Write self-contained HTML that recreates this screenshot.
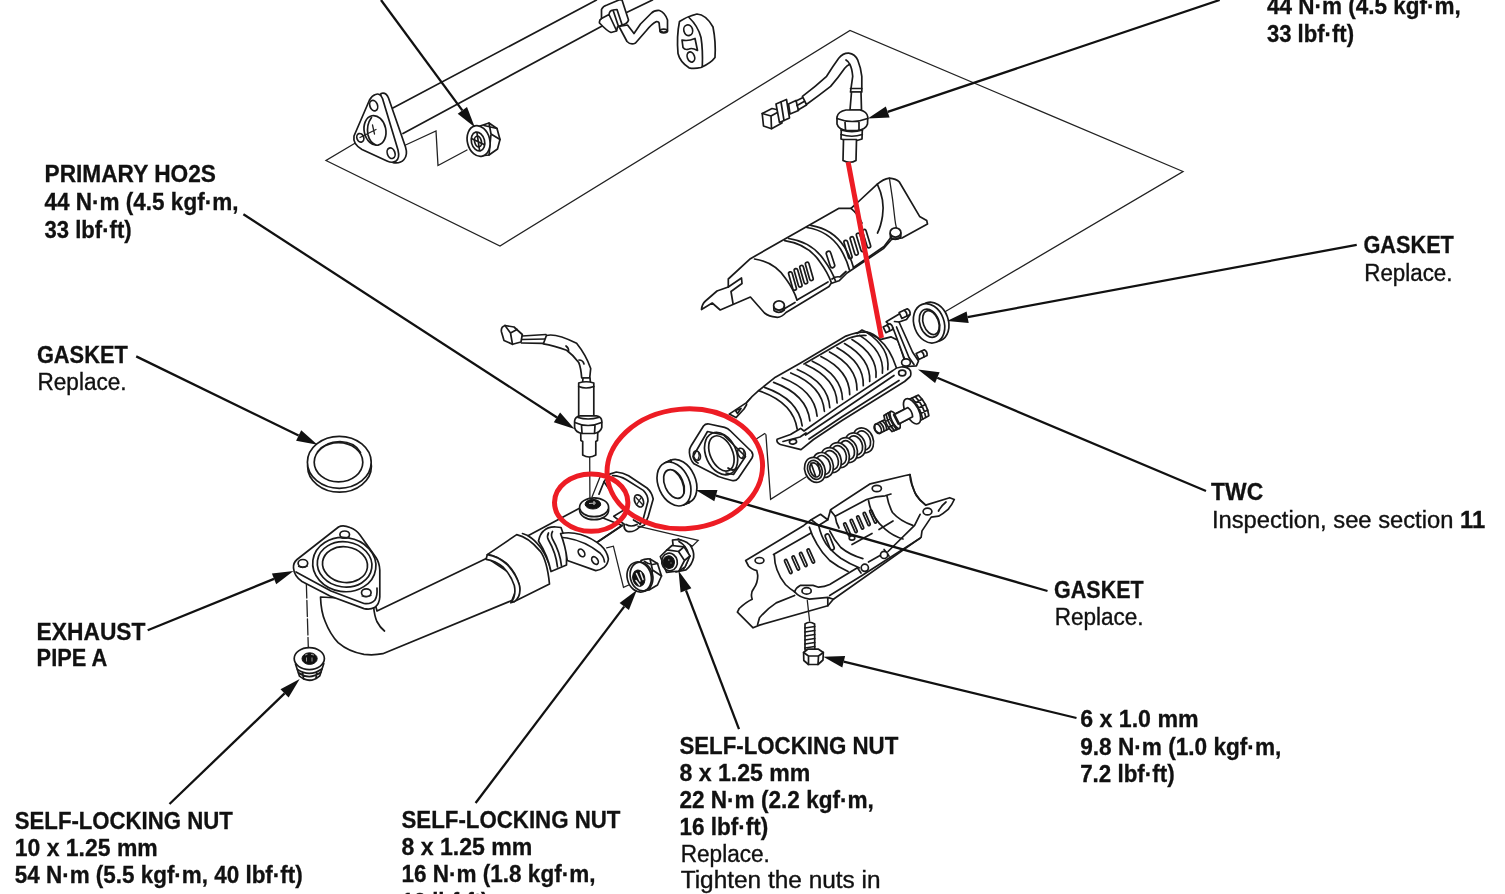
<!DOCTYPE html>
<html><head><meta charset="utf-8"><title>Exhaust pipe and TWC</title>
<style>
html,body{margin:0;padding:0;background:#fff;}
svg{display:block;}
text{font-family:"Liberation Sans",sans-serif;fill:#111;stroke:#111;}
.b{font-weight:bold;font-size:24px;stroke-width:0.3px;}
.m{font-weight:bold;font-size:23px;stroke-width:0.3px;}
.r{font-weight:normal;font-size:23px;stroke-width:0.35px;}
.p{fill:none;stroke:#1a1a1a;stroke-width:1.7;stroke-linejoin:round;stroke-linecap:round;}
.w{fill:#fff;stroke:#1a1a1a;stroke-width:1.7;stroke-linejoin:round;stroke-linecap:round;}
.t{fill:none;stroke:#222;stroke-width:1.3;stroke-linecap:round;}
.k{fill:#111;stroke:#111;stroke-width:1;}
</style></head><body>
<svg width="1505" height="894" viewBox="0 0 1505 894">
<rect width="1505" height="894" fill="#fff"/>
<g id="art">
<!-- ground plane / exploded guide lines -->
<path class="t" d="M354.5 143.5 L326 160.5 L500 246 L850 30.5 L1183 171.5 L945 311.8"/>
<!-- long pipe -->
<path class="p" d="M391 109 L596.5 0"/>
<path class="p" d="M403 133.5 L604 25"/>
<path class="p" d="M624.5 13.5 L652.5 0"/>
<!-- Z guide -->
<path class="t" d="M404.5 145.5 L436 131 L438 165.5 L467 150"/>
<!-- triangular flange (back face then front face) -->
<path class="w" d="M381 93.5 Q386 92 388.5 98 L405.5 147 Q408 155 404 159.5 Q400 164 393 162.6 L370 150 Z"/>
<path class="w" d="M375.5 94.5 Q380 92.5 382.5 98.5 L398 150 Q400 158 396 161 Q392.5 163.5 387 161 L362 149.5 Q352.5 144 354 136 L369.5 100 Q372 95.5 375.5 94.5 Z"/>
<ellipse class="p" cx="375" cy="130.4" rx="10.8" ry="15" transform="rotate(-12 375 130.4)"/>
<path class="p" d="M371.5 117.5 Q366 125 368 135 Q370 143 376 145"/>
<path class="t" d="M360 137.5 L376 129.5 M372.5 125 L374.5 134"/>
<ellipse class="p" cx="373.7" cy="105.6" rx="3.8" ry="5.4" transform="rotate(-20 373.7 105.6)"/>
<ellipse class="p" cx="360.3" cy="137.8" rx="3.4" ry="4.4" transform="rotate(-20 360.3 137.8)"/>
<ellipse class="p" cx="391.1" cy="153.2" rx="3.8" ry="5.4" transform="rotate(-20 391.1 153.2)"/>
<!-- flange nut -->
<g>
<path class="w" d="M480 126 L489 123 L497 128.5 L500 139.5 L497.5 149 L489 155 L480 156 Z"/>
<path class="p" d="M489 123 L491 134 L489 155 M491 134 L500 139.5 M484 125.5 L497 128.5"/>
<ellipse class="w" cx="478.6" cy="141" rx="11.2" ry="15.6" transform="rotate(-14 478.6 141)"/>
<ellipse class="p" cx="478" cy="141.5" rx="6.6" ry="9.6" transform="rotate(-14 478 141.5)"/>
<ellipse class="p" cx="478" cy="141.5" rx="3.4" ry="5.4" transform="rotate(-14 478 141.5)"/>
<path class="p" d="M472.5 139 L484 144.5 M477 133 L479.5 150"/>
</g>
<!-- pipe bracket + hook -->
<path class="w" d="M601.5 9.5 Q603 6 607 5 L619 0 L622 0 L628.5 20 Q627.5 24 622 25 L617.5 27 L616.5 31 L611 32.5 Q607 31 599.5 23 Q599 20 601.5 18.5 Z"/>
<path class="p" d="M601.5 18.5 L609 14.5 L616.5 30.5 M609 14.5 Q609.5 10.5 613 10 L617 9.5 L622 24.5 M613 10 L618.5 26.5"/>
<path class="w" d="M619 26.5 L627 41.5 Q631 45.5 635.5 43 L646 31 Q651.5 24 656.5 21.5 Q659.5 21.5 659.3 25 L660 31 Q663.5 33.5 667.5 31 L667.5 20 Q665 12.5 659.5 10.5 Q654.5 10 651 13.5 L640.5 24 L634 33.5 L627.5 25 Z"/>
<ellipse class="p" cx="663.7" cy="31" rx="3.7" ry="1.8"/>
<!-- rubber hanger -->
<path class="w" d="M679.5 21.5 Q688 16 697 14 Q706 14.5 713 27 Q716 42 715 57.5 Q711 63 701 67.5 Q694 69 689 67.8 Q680 62 678 53.5 Q676.5 36 679.5 21.5 Z"/>
<path class="p" d="M689 17.5 Q698 26 701 37.5 Q703 50 702.3 66.5"/>
<ellipse class="p" cx="688.2" cy="30.2" rx="4.4" ry="5.4" transform="rotate(-15 688.2 30.2)"/>
<ellipse class="p" cx="690.9" cy="57" rx="3.6" ry="5.2" transform="rotate(-20 690.9 57)"/>
<path class="p" d="M682 40 Q688 41.5 695 38.5 L697.5 50.5 Q692 47.5 689 49 Q685 50.5 683 47.5 Z"/>

<!-- secondary HO2S -->
<g>
<path class="w" d="M762.2 113.5 L772 108.5 L781 110.5 L782 123 L771.5 128.7 L763.5 126 Z"/>
<path class="p" d="M762.2 113.5 L771 116 L781 110.5 M771 116 L771.5 128.7"/>
<path class="w" d="M776 104 L786.5 99.5 L789.5 118 L779.5 122.5 Z"/>
<path class="p" d="M781 102 L784 120.5"/>
<path class="w" d="M788.5 104 L796 100.5 L798.5 110.5 L790 114 Z"/>
<path class="p" d="M796 101 L804 97 M798 110 L806.5 105 M797 105.5 L805 101"/>
<path class="w" d="M802.4 96.4 Q816 86 826.6 76.3 Q833 66 838.7 58.2 Q843 53 848.7 53.2 Q855 54 857.8 60.2 Q861 68 861.8 76.3 L861.8 92 L850.5 92 L852.7 76.3 Q852 68 849.7 64.2 Q847 65.5 844.7 68.3 Q838 78 830.6 86.4 Q819 95.5 806.4 104.5 Z"/>
<path class="p" d="M846 60 Q849 62 849.7 64.2 M850.5 88.5 L861.8 88.5"/>
<path class="w" d="M851.5 92 L861 92 L861.5 110 L850 110 Z"/>
<path class="w" d="M841 139 L841.5 124 L862.5 124 L862 139 Q852 143 841 139 Z"/>
<path class="p" d="M841 130 Q852 133.5 862.5 130 M841 134.5 Q852 138 862.3 134.5"/>
<path class="w" d="M837 117 Q838 111.5 846 110 L860 110 Q867 111.5 867.8 117 L867.5 124 Q866 129.5 857 130.5 L847 130.5 Q838.5 129.5 837 124 Z"/>
<path class="p" d="M837 118.5 Q852 124.5 867.6 118.5 M845 122 L845.5 130 M859 122 L859 130"/>
<path class="w" d="M843.5 139.5 L856.5 139.5 L856 160.5 Q850 164 843 160.5 Z"/>
</g>

<!-- upper heat shield -->
<path class="w" d="M701.5 309.5 Q702 304 705.5 301 L717 291 L728.3 287 L728.3 279 L750.4 258.7 L839 208.3 L851 208.3 L857 203 L877.3 184.2 Q883 179 889.4 178.1 Q896 178.5 899.5 182.2 L919.6 216.4 L926.7 220.4 L927.5 224 L902 238 L891.5 239.5 L883.4 248.6 L847 273 L839 280.8 L831 283.5 L829 286.5 L786 312.5 Q781 318 776 317.2 Q769 316.5 764.5 313 L750.4 297 L720.2 310 L712.2 303 Z"/>
<path class="p" d="M728.3 287 L741.5 278 L742 283.5 L731 291.5 L733 303.5"/>
<path class="p" d="M754.5 259 Q775 262 786 279 Q794 290 797 300"/>
<path class="p" d="M784.7 240.6 Q808 244 820 262 Q828 273 831.5 283"/>
<path class="p" d="M788.5 238.5 Q812 242 824 260 Q832 271 835.5 281"/>
<path class="p" d="M806.8 227.5 Q829 231 840.5 249 Q847 260 849.5 270"/>
<path class="p" d="M810.8 225.3 Q833 229 844.5 247 Q851 258 853.5 267.5"/>
<path class="p" d="M797 300 L828 282 M832 279 Q836 276 840 277 L846 271.5 M853.5 267.5 L884 246.5 L892 236 M783 309.5 L795 302.5"/>
<rect class="p" x="790.7" y="271.5" width="3.6" height="19" rx="1.8" transform="rotate(-16 792.5 281.0)"/>
<rect class="p" x="796.3" y="268.3" width="3.6" height="19" rx="1.8" transform="rotate(-16 798.1 277.8)"/>
<rect class="p" x="801.9" y="265.1" width="3.6" height="19" rx="1.8" transform="rotate(-16 803.7 274.6)"/>
<rect class="p" x="807.5" y="261.9" width="3.6" height="19" rx="1.8" transform="rotate(-16 809.3 271.4)"/>
<rect class="p" x="828.2" y="251.0" width="4.6" height="17" rx="2.3" transform="rotate(-18 830.5 259.5)"/>
<rect class="p" x="846.2" y="240.0" width="3.6" height="19" rx="1.8" transform="rotate(-17 848.0 249.5)"/>
<rect class="p" x="852.4" y="236.4" width="3.6" height="19" rx="1.8" transform="rotate(-17 854.2 245.9)"/>
<rect class="p" x="858.6" y="232.8" width="3.6" height="19" rx="1.8" transform="rotate(-17 860.4 242.3)"/>
<rect class="p" x="864.8" y="229.2" width="3.6" height="19" rx="1.8" transform="rotate(-17 866.6 238.7)"/>
<path class="p" d="M877.3 184.2 Q885 200 882.5 216 Q881 226 877.5 233"/>
<path class="t" d="M889.4 178.1 Q893 200 895 220 Q896 228 898 232"/>
<path class="p" d="M851 208.3 Q858 214 862 223"/>
<ellipse class="w" cx="895.5" cy="232.5" rx="5.4" ry="4.6"/><path class="p" d="M890.2 233.5 L890.5 237.5 Q895.5 241.5 900.8 237 L900.8 233"/>
<ellipse class="w" cx="779" cy="305.5" rx="5.4" ry="4.6"/><path class="p" d="M773.7 306.5 L774 310.5 Q779 314.5 784.3 310 L784.3 306"/>
<!-- TWC -->
<path class="w" d="M729.2 414.1 L746.9 402.4 L750 399 L744 409 L736 417.6 Z"/>
<path class="p" d="M735.5 410.5 L741 408.5 L737.5 413.5 Z"/>
<path class="t" d="M755.5 439.5 L765.8 432.9 L770.6 499.3 L806 477"/>
<path d="M746.9 402.4 Q752 396 758.6 390.6 L775.4 377.2 L800.6 362.9 L845.9 336.1 Q857 332 866 331.9 L881.1 339.4 L891.2 336.9 L897.9 340.3 L903 355.4 L906 366 L896 370 L838 407.6 L800 430.5 L777 441.5 L766 434 L752 420 Z" fill="#fff" stroke="none"/>
<path class="p" d="M746.9 402.4 Q752 396 758.6 390.6 L775.4 377.2 L800.6 362.9 L845.9 336.1 Q857 332 866 331.9 L881.1 339.4 L891.2 336.9 L897.9 340.3 L903 355.4 L906 366"/>
<path class="p" d="M758.6 390.6 Q793.3 402.2 797.2 429.2"/>
<path class="p" d="M764.5 387.4 Q798.7 399.2 802.2 425.9"/>
<path class="p" d="M773.6 382.4 Q806.9 394.6 809.9 420.9"/>
<path class="p" d="M782.2 377.7 Q814.7 390.3 817.1 416.1"/>
<path class="p" d="M790.8 373.0 Q822.5 385.9 824.4 411.3"/>
<path class="p" d="M797.3 369.5 Q828.3 382.7 829.8 407.7"/>
<path class="p" d="M805.9 364.8 Q836.0 378.3 837.1 403.0"/>
<path class="p" d="M812.3 361.2 Q841.9 375.1 842.5 399.4"/>
<path class="p" d="M820.9 356.6 Q849.6 370.7 849.7 394.6"/>
<path class="p" d="M829.5 351.9 Q857.4 366.4 857.0 389.9"/>
<path class="p" d="M837.0 347.7 Q864.2 362.6 863.3 385.7"/>
<path class="p" d="M844.5 343.6 Q871.0 358.8 869.7 381.5"/>
<path class="p" d="M852.0 339.5 Q877.8 355.0 876.0 377.3"/>
<path class="p" d="M859.6 335.4 Q884.6 351.2 882.4 373.2"/>
<path class="p" d="M866.0 331.9 Q890.4 348.0 887.8 369.6"/>
<path class="p" d="M804 364 L848 338.5 Q858 335 866 335.5"/>
<path class="p" d="M866 331.9 Q874 333 879.5 339.8 M879.5 339.8 Q890 348 896.5 368"/>
<path class="p" d="M857 333.5 L862 330 L868.5 333"/>
<path class="w" d="M777.1 439.3 L790.5 434.5 L800.6 428.4 L804 431 L837.5 407.4 L892.9 370.5 Q896 367.5 901 367 Q908 366.5 910.5 371 Q911.5 375.5 909.7 377 L904.6 381.5 L842 420.5 L813.5 439.5 L801 449.6 L780.4 444.5 Q776 442.5 777.1 439.3 Z"/>
<path class="p" d="M805.5 435 L840 412 L894 375.5 M809 439 L842.5 416.5 L899 380.5 M783 441.5 L800 437 L806 433"/>
<ellipse class="p" cx="793" cy="441.8" rx="3.6" ry="2.3" transform="rotate(-10 793 441.8)"/>
<ellipse class="p" cx="902.2" cy="373" rx="3.6" ry="2.8"/>
<path class="w" d="M886.2 321.8 L903 311.7 L909.7 315.1 L906.5 319.5 L899 322 L912.5 352 L918.5 361 L916.4 365.8 L908 366.5 L903.5 356 L893 328 Z"/>
<path class="p" d="M894.5 321.5 L899 322 M896.5 327 L909 357.5 L914 364.5"/>
<g transform="translate(900.5 315.5) rotate(-25)"><path class="w" d="M0 -3.2 L9 -3.2 Q11.2 0 9 3.2 L0 3.2 Z"/><path class="p" d="M5.5 -3.2 Q7.5 0 5.5 3.2"/></g>
<g transform="translate(884.5 329.8) rotate(-25)"><path class="w" d="M0 -3.2 L7.5 -3.2 Q9.7 0 7.5 3.2 L0 3.2 Z"/><path class="p" d="M4.0 -3.2 Q6.0 0 4.0 3.2"/></g>
<g transform="translate(917.5 356.5) rotate(-25)"><path class="w" d="M0 -3.2 L9 -3.2 Q11.2 0 9 3.2 L0 3.2 Z"/><path class="p" d="M5.5 -3.2 Q7.5 0 5.5 3.2"/></g>
<ellipse class="w" cx="906" cy="362.5" rx="4.4" ry="3.6"/>
<!-- spring -->
<ellipse class="w" cx="863.2" cy="440.4" rx="10" ry="12.8" transform="rotate(-22 863.2 440.4)" stroke-width="2"/>
<ellipse class="p" cx="863.2" cy="440.4" rx="7" ry="9.8" transform="rotate(-22 863.2 440.4)" stroke-width="1.9"/>
<ellipse class="w" cx="855.2" cy="445.3" rx="10" ry="12.8" transform="rotate(-22 855.2 445.3)" stroke-width="2"/>
<ellipse class="p" cx="855.2" cy="445.3" rx="7" ry="9.8" transform="rotate(-22 855.2 445.3)" stroke-width="1.9"/>
<ellipse class="w" cx="847.1" cy="450.2" rx="10" ry="12.8" transform="rotate(-22 847.1 450.2)" stroke-width="2"/>
<ellipse class="p" cx="847.1" cy="450.2" rx="7" ry="9.8" transform="rotate(-22 847.1 450.2)" stroke-width="1.9"/>
<ellipse class="w" cx="839.0" cy="455.1" rx="10" ry="12.8" transform="rotate(-22 839.0 455.1)" stroke-width="2"/>
<ellipse class="p" cx="839.0" cy="455.1" rx="7" ry="9.8" transform="rotate(-22 839.0 455.1)" stroke-width="1.9"/>
<ellipse class="w" cx="831.0" cy="460.1" rx="10" ry="12.8" transform="rotate(-22 831.0 460.1)" stroke-width="2"/>
<ellipse class="p" cx="831.0" cy="460.1" rx="7" ry="9.8" transform="rotate(-22 831.0 460.1)" stroke-width="1.9"/>
<ellipse class="w" cx="823.0" cy="465.0" rx="10" ry="12.8" transform="rotate(-22 823.0 465.0)" stroke-width="2"/>
<ellipse class="p" cx="823.0" cy="465.0" rx="7" ry="9.8" transform="rotate(-22 823.0 465.0)" stroke-width="1.9"/>
<ellipse class="w" cx="814.9" cy="469.9" rx="10" ry="12.8" transform="rotate(-22 814.9 469.9)" stroke-width="2"/>
<ellipse class="p" cx="814.9" cy="469.9" rx="7" ry="9.8" transform="rotate(-22 814.9 469.9)" stroke-width="1.9"/>
<ellipse class="p" cx="814.9" cy="469.9" rx="4.6" ry="7.4" transform="rotate(-22 814.9 469.9)"/>
<path class="p" d="M811 463 L815.5 476 M817.5 462 L820 472"/>
<!-- flanged bolt -->
<g transform="translate(877.3 429) rotate(-27)">
<path class="w" d="M0 -5 L13 -5 L13 5 L0 5 Q-4.5 0 0 -5 Z"/>
<ellipse class="p" cx="0.5" cy="0" rx="3.2" ry="5"/>
<path class="p" d="M5 -5 Q7.5 0 5 5 M8 -5 Q10.5 0 8 5 M11 -5 Q13.5 0 11 5"/>
<path class="w" d="M12 -9 L20 -9.5 L20 9.5 L12 9 Q9 0 12 -9 Z"/>
<path class="p" d="M14.5 -9.2 Q12 0 14.5 9.2 M17 -9.4 Q15 0 17 9.4 M12 -3 L20 -3.4 M12 3.6 L20 4"/>
<ellipse class="w" cx="20" cy="0" rx="3.2" ry="9.5"/>
<path class="w" d="M21 -5.2 L40 -5.2 L40 5.2 L21 5.2 Z"/>
<path class="w" d="M42 -12 L52 -11.5 Q56 0 52 11.5 L42 12 Z"/>
<path class="p" d="M45 -11.8 Q48 0 45 11.8 M48.5 -11.6 Q52 0 48.5 11.6 M42 -6 L53.5 -6 M42 0 L54 0 M42 6 L53.5 6"/>
<ellipse class="w" cx="39" cy="0" rx="6.6" ry="13.8"/>
<path class="w" d="M22 -5.2 L37 -5.2 Q39.5 0 37 5.2 L22 5.2 Z" stroke-width="1.4"/>
</g>
<!-- left gasket ring -->
<ellipse class="w" cx="339.5" cy="466.2" rx="31.9" ry="26"/>
<ellipse class="w" cx="339.3" cy="462.3" rx="31.9" ry="26"/>
<ellipse class="p" cx="338.5" cy="462.2" rx="24.3" ry="19.6" stroke-width="1.8"/>
<path class="p" d="M317.5 452 Q325 441.5 340 441.5 Q355 442 360.5 452.5"/>
<!-- centre gasket ring -->
<g transform="rotate(-24 674 484)">
<ellipse class="w" cx="680.5" cy="484" rx="15.5" ry="23"/>
<path class="w" d="M674 461 L680.5 461 L680.5 507 L674 507 Z" stroke="none"/>
<path class="p" d="M674 461 L680.5 461 M674 507 L680.5 507"/>
<ellipse class="w" cx="674" cy="484" rx="15.5" ry="23"/>
<ellipse class="p" cx="674" cy="484" rx="9.2" ry="15.2"/>
<path class="p" d="M679.5 471.8 Q685.5 484 679.5 496.2"/>
</g>
<!-- right gasket ring -->
<g transform="rotate(-20 930 323)">
<ellipse class="w" cx="933.5" cy="323" rx="15" ry="20.2"/>
<ellipse class="w" cx="929" cy="323" rx="15" ry="20.2"/>
<ellipse class="p" cx="929.5" cy="323" rx="9.6" ry="14.6"/>
<ellipse class="p" cx="931" cy="323" rx="7.6" ry="12.4"/>
</g>

<!-- two-bolt flange -->
<g>
<path class="w" d="M689.4 452.5 Q689 449 691 446 L703.5 426 Q705.5 423.5 709 424 L724.6 427.4 Q728 428.5 730.5 431 L751.5 451.5 Q753.8 454.5 752 458 L738.5 478 Q736 481.5 732 480.5 L724.6 478.5 Q718 477 712 473 L694 463.8 Q690 460 689.4 452.5 Z"/>
<path class="p" d="M693 456.5 L707.5 431.5 L723.5 435 L745.5 456.5 L733.5 474.5 L726 473 M693 456.5 Q694 461 698 463"/>
<ellipse class="p" cx="721.1" cy="453.6" rx="15.2" ry="22.2" transform="rotate(-24 721.1 453.6)"/>
<ellipse class="p" cx="721.4" cy="453.4" rx="11.2" ry="18.6" transform="rotate(-24 721.4 453.4)"/>
<path class="p" d="M728 468 Q733 472 736.5 468"/>
<ellipse class="p" cx="696.9" cy="455.6" rx="3.4" ry="4.8" transform="rotate(-20 696.9 455.6)"/>
<ellipse class="p" cx="741.5" cy="453.3" rx="3.6" ry="5.2" transform="rotate(-20 741.5 453.3)"/>
<path class="t" d="M698.5 452 Q700 455.5 698 459.5 M743.2 449.5 Q745 453.5 742.5 457.8"/>
</g>

<!-- lower heat shield -->
<path class="w" d="M745.7 560.5 L803.8 525.4 L811.2 519.8 L820.5 514.3 L827.8 519.8 L830.6 509.7 L870.3 483.8 L905.4 475.5 L910 474.6 Q910 480 911.8 484.8 Q914 491 916.5 495.8 Q920 501 925.7 505.1 L949.7 497.7 L954.3 499.5 Q952 505 947.8 509.7 Q943 514 938.6 516.2 L931.2 517.1 L922 530.9 L921.1 537.4 L833.4 599.2 L827.8 605.7 L759.5 625.1 L753.1 627.8 L737.4 612.1 L739.2 608.5 Q746 602 752.2 599.2 Q750 593 754 588.1 Q758 582 757.7 575.2 L756.8 570.6 Q751 569 748.5 566 Z"/>
<ellipse class="p" cx="759.5" cy="560.5" rx="4.4" ry="3"/>
<ellipse class="p" cx="876.8" cy="488.5" rx="4.6" ry="3.2"/>
<ellipse class="p" cx="927.5" cy="511.5" rx="4.4" ry="3.4"/>
<ellipse class="p" cx="806.6" cy="590.9" rx="4.6" ry="3.2"/>
<path class="p" d="M946 502 Q941 506 938.5 511"/>
<!-- trough edges -->
<path class="p" d="M773.5 554.5 L811 533"/>
<path class="p" d="M774.3 554.9 Q774.5 563 777 569.7 Q780 578 785.4 584.5 Q790 589 794.6 591.8"/>
<path class="p" d="M809.4 527.2 Q812 536 816.8 543.8 Q822 553 829.7 560.5 Q838 567 848.1 571.5"/>
<path class="p" d="M818.6 525.4 Q821 536 826 543.8 Q832 552 840.8 558.2 Q849 563.5 859.2 567.8"/>
<path class="p" d="M829.7 530.9 Q834 540 840.8 547.5 Q850 555 862.9 558.6"/>
<path class="p" d="M811.2 519.8 L818.6 525.4 L827.8 519.8"/>
<path class="p" d="M830.6 510.6 L835.2 516.2 L866.6 499.5 Q876 496 885.1 495.8 L891 494"/>
<path class="p" d="M835.2 516.2 Q836 523 839 528"/>
<path class="p" d="M868.5 500.5 Q870 509 874 516.2 Q879 524 885.1 529.1 Q893 536 903 539"/>
<path class="p" d="M886.9 495.8 Q888.5 505 892.5 512.5 Q900 521 912.8 525.4"/>
<path class="p" d="M910 474.6 Q911.5 485 915 493 Q919 500 925.7 505.1"/>
<path class="p" d="M852 544.5 L872 533.5 M879 529.5 L893 521"/>
<!-- bottom rail -->
<path class="p" d="M794.6 591.8 Q796 587.5 800.2 585.4 L813 585.4 L818.6 587.2 Q824.5 587 829.7 584.5 L857.4 567.8 M868.5 562 L880 555.5 M888 551.5 L914.6 525.4 L920.1 514.3"/>
<path class="p" d="M829.7 595.5 L862 575.5 L920.1 538.3"/>
<path class="p" d="M794.6 591.8 Q799 597.5 809.4 599.2 L827.8 597.4 L833.4 599.2 M827.8 597.4 L827.8 605.7"/>
<path class="p" d="M857.4 567.8 L861 573 M884.1 549.5 L889 556"/>
<ellipse class="w" cx="864.8" cy="567.8" rx="3.6" ry="3.6"/><ellipse class="w" cx="884.1" cy="554.9" rx="3.6" ry="3.6"/>
<ellipse class="w" cx="852" cy="538" rx="2.8" ry="2.2"/>
<!-- bottom lip -->
<path class="p" d="M757.6 624.5 L759.5 617.7 Q767 609 776.2 602.9 L794.6 595.5"/>
<!-- slots -->
<g class="p">
<rect x="787" y="559" width="2.6" height="15" rx="1.3" transform="rotate(-24 788.3 566.5)"/>
<rect x="794.5" y="555.5" width="2.6" height="15" rx="1.3" transform="rotate(-24 795.8 563)"/>
<rect x="802" y="552" width="2.6" height="15" rx="1.3" transform="rotate(-24 803.3 559.5)"/>
<rect x="809.5" y="548.5" width="2.6" height="15" rx="1.3" transform="rotate(-24 810.8 556)"/>
<rect x="827.6" y="533.5" width="4.2" height="17" rx="2.1" transform="rotate(-22 829.7 542)"/>
<rect x="846" y="522.5" width="2.4" height="14" rx="1.2" transform="rotate(-24 847.2 529.5)"/>
<rect x="852.5" y="519" width="2.4" height="14" rx="1.2" transform="rotate(-24 853.7 526)"/>
<rect x="859" y="515.5" width="2.4" height="14" rx="1.2" transform="rotate(-24 860.2 522.5)"/>
<rect x="865.5" y="512" width="2.4" height="14" rx="1.2" transform="rotate(-24 866.7 519)"/>
<rect x="872" y="509.5" width="2.4" height="14" rx="1.2" transform="rotate(-24 873.2 516.5)"/>
</g>
<!-- small bolt -->
<path class="t" d="M807.3 600.5 L809.6 621"/>
<path class="w" d="M805 624 Q809.5 620.5 814.6 624 L814.8 650 L805 650 Z"/>
<path class="p" d="M805 628 L814.7 626.5 M805 632 L814.7 630.5 M805 636 L814.7 634.5 M805 640 L814.7 638.5 M805 644 L814.7 642.5 M805 648 L814.7 646.5" stroke-width="1.9"/>
<path class="w" d="M803.6 652.5 L808 649 L818.5 649.2 L823.3 652.5 L823 660 L818 664.5 L808.5 664.5 L803.8 660.5 Z"/>
<path class="p" d="M803.6 652.5 L808.5 656 L818.5 656 L823.3 652.5 M808.5 656 L808.5 664.5 M818.5 656 L818 664.5"/>

<!-- exhaust pipe A -->
<!-- pipe body -->
<path class="w" d="M320.5 597 Q321 612 325.2 621.5 Q330 634 338.1 642.7 Q349 652 364 654.4 Q374 655.5 382.8 653.7 L512 600.4 L520 580 L487.3 558 L377 611 L374 600 Z"/>
<path class="p" d="M373.6 607 Q374.5 616 376.9 621.5 Q380 627.5 384.5 631"/>
<!-- dashed guide to nut -->
<path class="t" d="M306.3 582 L308.6 657" stroke-dasharray="16 2.5" stroke-width="1.5"/>
<!-- triangular flange -->
<path class="w" d="M338.5 527 Q343 524.5 350 527.5 Q356 529.5 360 535 L376 557.5 Q379.5 563 379.8 570 L379.8 597 Q379.5 604 374.5 607.6 Q370 610 364 608.6 L330 596 L302 581.5 Q294 576 293.5 568 Q293 563 297 559.5 Z"/>
<path class="p" d="M296 572 L331 591 L364 603.5 Q371 604.5 375 600 M375 600 Q377.5 596 377 588"/>
<ellipse class="p" cx="344.3" cy="564.6" rx="31.7" ry="27" transform="rotate(8 344.3 564.6)"/>
<ellipse class="p" cx="344.6" cy="564.4" rx="27.4" ry="22.6" transform="rotate(8 344.6 564.4)"/>
<ellipse class="p" cx="345" cy="564.6" rx="22.6" ry="17.8" transform="rotate(8 345 564.6)" stroke-width="1.8"/>
<ellipse class="p" cx="344.7" cy="534.6" rx="4.8" ry="3.6"/>
<ellipse class="p" cx="302.9" cy="563.3" rx="4.8" ry="3.8"/>
<ellipse class="p" cx="366.3" cy="592.7" rx="4.8" ry="3.8"/>
<path class="t" d="M340 537.5 Q344.5 539.5 349.3 537 M298.5 566.5 Q303 568.8 307.5 566 M362 596 Q366.5 598 371 595.5"/>
<!-- sleeve -->
<path class="w" d="M487.3 554.6 L516.7 534.6 Q528.4 537 540.1 551.1 Q547 560 549.5 584 L514.3 601.6 Q521 596 519 584 Q515 571 506 563 Q497 556 487.3 554.6 Z"/>
<path class="p" d="M522.5 533.5 Q533.1 536 544.8 551.1 Q550 559 551.9 568.5"/>
<path class="w" d="M487.3 554.6 Q497.9 556 507.5 565 Q516 574 519.5 585.5 Q521.5 596.5 514.3 601.6 L510.8 602.8 Q516.5 596 514.3 585.5 Q511 575.5 503.5 567.5 Q495.5 560.5 486.1 559.3 Z"/>
<!-- pipe beyond sleeve up to boss -->
<path class="w" d="M528 535.8 L579 508.5 L622 525.5 L597.5 542 L563 562.5 L551 570.5 Q548 558.5 541 548 Q534 539 528 535.8 Z"/>
<!-- clamp strap -->
<path class="w" d="M543.5 531 Q548 526.5 556 527 L561 527.5 Q566 540 566.5 553 L566.5 565 L551 571.5 Q548 556 538.5 541 Q540 534 543.5 531 Z"/>
<path class="p" d="M548.5 533 Q546.5 536.5 548.5 540 Q556 553 557.5 567 M552.5 531.5 Q550.5 535 552.5 539 Q560 552 561.5 566"/>
<!-- two-hole plate -->
<path class="w" d="M560.6 533.6 Q570 531.5 580.7 534.5 Q592 538 600.8 545.4 Q607 551 608.4 558.8 Q608 564 604.2 567.2 Q600 570.5 595.8 570.6 L567.3 560.5 Q565.5 546 560.6 533.6 Z"/>
<path class="p" d="M562.5 537.5 L567 538 Q585 541 600 553 Q604 557 604.5 562"/>
<ellipse class="p" cx="581.5" cy="552.9" rx="2.8" ry="4.2" transform="rotate(-35 581.5 552.9)"/>
<ellipse class="p" cx="595" cy="560.5" rx="2.8" ry="4.2" transform="rotate(-35 595 560.5)"/>
<!-- mounting flange at pipe end -->
<path class="w" d="M608.9 474.4 L616.3 472 Q623 472.5 628.6 475.7 L647 488 Q652 492.5 653.2 499 L648.3 516.3 L644.6 524.9 L639 527.5 Q634 532.5 627.5 531.5 Q623 529 624.5 524.5 L613.8 516.3 L623.7 510.1 L604 481.8 Z"/>
<path class="p" d="M612.6 475.7 Q620 476 626 479.5 L643.3 490.4 Q648 495 648 501 L643.3 518.7 L640 524.5 M633.5 520 L639.5 523.5 M626 524.5 Q631 527.5 637 524.5"/>
<ellipse class="p" cx="639" cy="500.9" rx="4.2" ry="6.4" transform="rotate(-25 639 500.9)"/>
<path class="t" d="M636 497.5 L642.5 504.5 M641.5 497 L636.5 505"/>
<path class="p" d="M604 481.8 L599 494.1 M597.5 542 L622.7 525.2"/>
<!-- sensor boss -->
<ellipse class="w" cx="594.1" cy="510.3" rx="14.5" ry="9.4"/>
<ellipse class="w" cx="594.1" cy="507.3" rx="14.5" ry="9.4"/>
<ellipse class="k" cx="592.9" cy="504.2" rx="7.8" ry="4.8"/>
<path d="M589 503.5 L596 503 M594 501 L594 505" stroke="#bbb" stroke-width="1.2" fill="none"/>
<!-- guide lines -->
<path class="t" d="M606.7 547.9 L613.4 546.2 L623.5 587.3 L631 584"/>
<path class="t" d="M637.8 526.1 L698.2 540.4 L692.3 546.2 L678 538.7"/>
<path class="t" d="M589.7 457 L589.9 498"/>
<path class="t" d="M600 477 L592 497"/>

<!-- primary HO2S -->
<g>
<path class="w" d="M501.5 332 Q500.5 327 505 325.5 L514 327 L522.3 334.5 L521 342 L512.5 344.3 L504 340.5 Z"/>
<path class="p" d="M505 325.5 L510.5 333 L512.5 344.3 M510.5 333 L517 329.5"/>
<path class="p" d="M522.3 336 L546 334.5 M521.5 343 L543 343.3 M522 339.5 L545 339"/>
<path class="w" d="M546.4 335.5 Q556 333 576.6 343.3 Q586 355 590.7 368.5 L589.7 378 L581.7 378 Q581 368 578.7 362.4 Q573 355 566.6 350.3 Q554 345.5 543.4 343.8 Z"/>
<path class="p" d="M566 346 Q569 348 568.5 351.5 M579 360 Q583 360 584 364"/>
<path class="w" d="M583 378 L590 378 L590.5 383.5 L582.5 383.5 Z"/>
<path class="w" d="M578.7 383 Q586 380.5 593.8 383 L593.8 416.8 L578.7 416.8 Z"/>
<path class="p" d="M578.7 386.5 Q586 389.5 593.8 386.5"/>
<path class="w" d="M580.7 432 L597.8 432 L597.5 440.5 L595.8 441.5 L595.8 455 Q589 459 582.7 455 L582.7 441.5 L580.9 440.5 Z"/>
<path class="w" d="M574.6 421 Q575 416.5 580 415.8 L596.5 415.8 Q601.5 416.5 601.8 421 L601.8 427.5 Q600.5 432.5 594 433.5 L582.5 433.5 Q575.5 432.5 574.6 427.5 Z"/>
<path class="p" d="M574.8 422.5 Q588 428.5 601.6 422.5 M581.5 425.5 L582 433.3 M595 425.5 L594.5 433.3 M578 417.5 Q588 420.5 598.5 417.5"/>
</g>

<!-- nut under flange (10 x 1.25) -->
<g>
<path class="w" d="M295.5 664 L299.5 676.2 Q309.5 684.5 319.8 675.8 L323.8 663.5 Z" stroke-width="2"/>
<path class="p" d="M297.5 669.5 Q309.5 677.5 321.8 669 M298.5 672.8 Q309.5 680.5 320.8 672.3 M302.5 672.5 L303.5 678.8 M316.8 672 L316 678.5"/>
<ellipse class="w" cx="309.3" cy="658.6" rx="15.1" ry="11" stroke-width="2.1"/>
<ellipse class="k" cx="309.6" cy="658.6" rx="7.6" ry="5.8"/>
<path d="M306.5 657.5 L306.5 661.5 M312 657.5 L312 661.5 M305 655 L307.5 654.3 M311 654.3 L314 655" stroke="#999" stroke-width="1" fill="none"/>
</g>
<!-- nut left (8 x 1.25, 16 N·m) -->
<g>
<path class="w" d="M641 560.5 Q645 558.5 650 559 L657.5 563.5 L661.5 576 L657.5 585 L649 590 L641 591.5 Z" stroke-width="1.9"/>
<path class="p" d="M650 559 L652.5 570 L649.5 589.5 M652.5 570 L661.5 576 M644.5 561.5 Q648 564 652.5 564.5 L657.5 563.5"/>
<ellipse class="w" cx="639.2" cy="577" rx="12" ry="15.2" transform="rotate(-14 639.2 577)" stroke-width="2"/>
<ellipse class="p" cx="641.5" cy="576.5" rx="11.2" ry="14.6" transform="rotate(-14 641.5 576.5)" stroke-width="1.4"/>
<ellipse class="k" cx="638.8" cy="578.2" rx="6" ry="8.2" transform="rotate(-14 638.8 578.2)"/>
<path d="M636.5 573.5 L640 581 M640.5 572.5 L643 579.5 M636 580.5 L639.5 585" stroke="#eee" stroke-width="1.5" fill="none" stroke-linecap="round"/>
</g>
<!-- nut right (8 x 1.25, 22 N·m) -->
<g>
<path class="w" d="M672.5 540 Q683 538.5 690 545 Q694.5 551 693.6 557.5 Q692 565 686 569.8 L676 572 Z" stroke-width="1.9"/>
<path class="p" d="M679 541.5 Q687 546 688.5 554.5 Q688.5 562 683.5 569"/>
<path class="w" d="M660.3 556.5 L667 549.8 L672 545.5 L684 546.8 L690 556 L685 567 L679 571 L666.5 572.3 Z" stroke-width="1.9"/>
<path class="p" d="M667 549.8 L678.5 551.5 L684.5 560.5 L679 571 M678.5 551.5 L684 546.8 M684.5 560.5 L690 556"/>
<ellipse class="p" cx="669.5" cy="562" rx="7.8" ry="8.8" transform="rotate(-12 669.5 562)" stroke-width="1.3"/>
<ellipse class="k" cx="668.9" cy="562.1" rx="5.6" ry="6.3" transform="rotate(-12 668.9 562.1)"/>
<path d="M668 560 L669.5 560 M670.5 563 L671.5 563" stroke="#aaa" stroke-width="1" fill="none"/>
</g>

</g>
<defs><filter id="gs" x="0" y="0" width="100%" height="100%" filterUnits="userSpaceOnUse" color-interpolation-filters="sRGB"><feColorMatrix type="saturate" values="0"/></filter></defs>
<g id="labels">
<line x1="381" y1="0" x2="462.3" y2="110.4" stroke="#111" stroke-width="2.3"/>
<polygon points="474.8,127.3 457.7,113.8 467.0,107.0" fill="#111"/>
<line x1="243.4" y1="214.3" x2="557.0" y2="417.5" stroke="#111" stroke-width="2.3"/>
<polygon points="574.6,428.9 553.8,422.3 560.1,412.6" fill="#111"/>
<line x1="136.2" y1="356.4" x2="298.6" y2="435.5" stroke="#111" stroke-width="2.3"/>
<polygon points="317.5,444.7 296.1,440.7 301.2,430.3" fill="#111"/>
<line x1="147.7" y1="630.2" x2="274.0" y2="578.9" stroke="#111" stroke-width="2.3"/>
<polygon points="293.5,571 276.2,584.3 271.9,573.5" fill="#111"/>
<line x1="169.5" y1="804" x2="284.6" y2="693.4" stroke="#111" stroke-width="2.3"/>
<polygon points="299.7,678.9 288.6,697.6 280.5,689.3" fill="#111"/>
<line x1="475.6" y1="803" x2="624.2" y2="606.6" stroke="#111" stroke-width="2.3"/>
<polygon points="636.9,589.9 628.9,610.1 619.6,603.1" fill="#111"/>
<line x1="739" y1="729.2" x2="686.0" y2="590.4" stroke="#111" stroke-width="2.3"/>
<polygon points="678.5,570.8 691.4,588.3 680.6,592.5" fill="#111"/>
<line x1="1219.7" y1="0" x2="887.7" y2="111.9" stroke="#111" stroke-width="2.3"/>
<polygon points="867.8,118.6 885.8,106.4 889.6,117.4" fill="#111"/>
<line x1="1356.7" y1="244.8" x2="967.6" y2="317.2" stroke="#111" stroke-width="2.3"/>
<polygon points="947,321 966.6,311.5 968.7,322.9" fill="#111"/>
<line x1="1206" y1="491" x2="937.3" y2="377.7" stroke="#111" stroke-width="2.3"/>
<polygon points="918,369.5 939.6,372.3 935.1,383.0" fill="#111"/>
<line x1="1047.5" y1="591" x2="715.9" y2="495.7" stroke="#111" stroke-width="2.3"/>
<polygon points="695.7,489.9 717.5,490.1 714.3,501.3" fill="#111"/>
<line x1="1076.5" y1="718" x2="843.7" y2="661.7" stroke="#111" stroke-width="2.3"/>
<polygon points="823.3,656.8 845.1,656.1 842.3,667.4" fill="#111"/>
<line x1="848.1" y1="162" x2="881.5" y2="338" stroke="#ed1c24" stroke-width="5" stroke-linecap="butt"/>
<ellipse cx="591.2" cy="502.6" rx="36.7" ry="28.7" fill="none" stroke="#ed1c24" stroke-width="5"/>
<ellipse cx="684.8" cy="468.8" rx="77.9" ry="59.7" fill="none" stroke="#ed1c24" stroke-width="5" transform="rotate(-5.5 684.8 468.8)"/>
</g>
<g id="text" filter="url(#gs)">
<text x="44.5" y="182.1" textLength="171.5" lengthAdjust="spacingAndGlyphs" class="b">PRIMARY HO2S</text>
<text x="44.5" y="210.0" textLength="193.9" lengthAdjust="spacingAndGlyphs" class="m">44 N·m (4.5 kgf·m,</text>
<text x="44.5" y="238.1" textLength="87.1" lengthAdjust="spacingAndGlyphs" class="m">33 lbf·ft)</text>
<text x="36.9" y="362.9" textLength="90.9" lengthAdjust="spacingAndGlyphs" class="b">GASKET</text>
<text x="37.5" y="390.0" textLength="89.1" lengthAdjust="spacingAndGlyphs" class="r">Replace.</text>
<text x="36.6" y="639.8" textLength="108.9" lengthAdjust="spacingAndGlyphs" class="b">EXHAUST</text>
<text x="36.6" y="666.3" textLength="70.7" lengthAdjust="spacingAndGlyphs" class="b">PIPE A</text>
<text x="14.8" y="828.6" textLength="217.9" lengthAdjust="spacingAndGlyphs" class="b">SELF-LOCKING NUT</text>
<text x="14.8" y="856.3" textLength="142.9" lengthAdjust="spacingAndGlyphs" class="m">10 x 1.25 mm</text>
<text x="14.8" y="882.6" textLength="287.9" lengthAdjust="spacingAndGlyphs" class="m">54 N·m (5.5 kgf·m, 40 lbf·ft)</text>
<text x="401.5" y="827.8" textLength="218.9" lengthAdjust="spacingAndGlyphs" class="b">SELF-LOCKING NUT</text>
<text x="401.5" y="854.6" textLength="130.9" lengthAdjust="spacingAndGlyphs" class="m">8 x 1.25 mm</text>
<text x="401.5" y="881.8" textLength="193.9" lengthAdjust="spacingAndGlyphs" class="m">16 N·m (1.8 kgf·m,</text>
<text x="401.5" y="909.6" textLength="86.9" lengthAdjust="spacingAndGlyphs" class="m">13 lbf·ft)</text>
<text x="679.4" y="753.6" textLength="218.9" lengthAdjust="spacingAndGlyphs" class="b">SELF-LOCKING NUT</text>
<text x="679.4" y="780.8" textLength="130.9" lengthAdjust="spacingAndGlyphs" class="m">8 x 1.25 mm</text>
<text x="679.4" y="807.6" textLength="194.5" lengthAdjust="spacingAndGlyphs" class="m">22 N·m (2.2 kgf·m,</text>
<text x="679.4" y="834.6" textLength="88.9" lengthAdjust="spacingAndGlyphs" class="m">16 lbf·ft)</text>
<text x="680.7" y="861.6" textLength="89.2" lengthAdjust="spacingAndGlyphs" class="r">Replace.</text>
<text x="680.7" y="888.2" textLength="199.9" lengthAdjust="spacingAndGlyphs" class="r">Tighten the nuts in</text>
<text x="1266.9" y="13.5" textLength="193.9" lengthAdjust="spacingAndGlyphs" class="m">44 N·m (4.5 kgf·m,</text>
<text x="1266.9" y="41.8" textLength="87.1" lengthAdjust="spacingAndGlyphs" class="m">33 lbf·ft)</text>
<text x="1363.4" y="252.7" textLength="90.5" lengthAdjust="spacingAndGlyphs" class="b">GASKET</text>
<text x="1364.3" y="280.7" textLength="88.2" lengthAdjust="spacingAndGlyphs" class="r">Replace.</text>
<text x="1211.1" y="499.9" textLength="52.1" lengthAdjust="spacingAndGlyphs" class="b">TWC</text>
<text x="1211.9" y="527.7" textLength="273.2" lengthAdjust="spacingAndGlyphs" class="r">Inspection, see section <tspan font-weight="bold">11</tspan></text>
<text x="1054.1" y="598.3" textLength="89.5" lengthAdjust="spacingAndGlyphs" class="b">GASKET</text>
<text x="1054.7" y="624.9" textLength="88.9" lengthAdjust="spacingAndGlyphs" class="r">Replace.</text>
<text x="1080.2" y="726.6" textLength="118.4" lengthAdjust="spacingAndGlyphs" class="m">6 x 1.0 mm</text>
<text x="1080.2" y="754.6" textLength="201.1" lengthAdjust="spacingAndGlyphs" class="m">9.8 N·m (1.0 kgf·m,</text>
<text x="1080.2" y="782.1" textLength="94.4" lengthAdjust="spacingAndGlyphs" class="m">7.2 lbf·ft)</text>
</g>
</svg>
</body></html>
